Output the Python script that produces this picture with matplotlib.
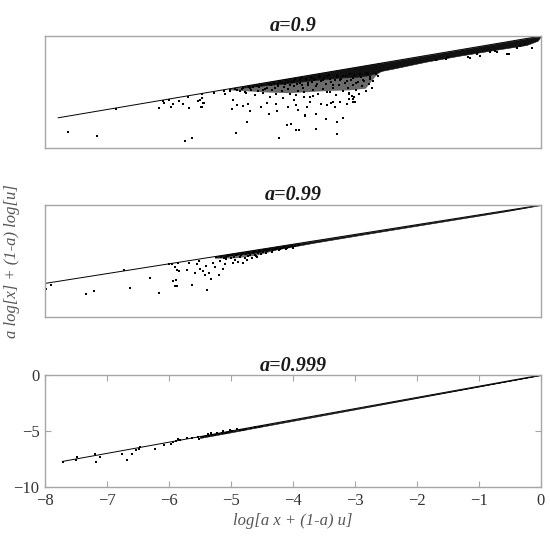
import matplotlib
matplotlib.use("Agg")
import matplotlib.pyplot as plt

# ---- data (x = log[a x + (1-a) u], y = a log[x] + (1-a) log[u]) ----

# a = 0.9
top_line = [-7.30, 0.0]
top_x = [-7.15, -6.71, -6.42, -5.77, -5.71, -5.70, -5.62, -5.59, -5.56, -5.47, -5.42, -5.32,
         -5.38, -5.28, -5.18, -5.16, -5.12, -5.11, -5.14, -5.12, -5.33, -4.95, -4.80, -4.78,
         -4.70, -4.65, -4.61, -4.45, -3.96, -3.84, -3.78, -3.71, -3.66, -3.40, -3.08, -3.09,
         -3.00, -3.25, -3.40, -3.57, -3.99, -4.12, -4.40, -4.67, -4.65, -4.59, -4.50, -4.43,
         -4.24, -4.15, -4.00, -3.82, -3.70, -3.54, -3.49, -3.32, -3.17, -3.12, -3.04, -2.94,
         -2.84, -2.83, -2.90, -5.10, -5.12, -3.57, -3.82, -3.67, -3.24, -3.14, -2.91, -2.86,
         -2.81, -2.84, -3.19, -3.44, -3.59, -3.74,
         -4.62, -4.55, -4.50, -4.46, -4.42, -4.38, -4.33, -4.30, -4.28,
         -4.22, -4.20, -4.17, -4.12, -4.10, -4.06, -4.03, -4.00, -3.97, -3.94, -3.92, -3.90,
         -3.87, -3.85, -3.82, -3.80, -3.77, -3.74, -3.72, -3.70, -3.68, -3.65, -3.63, -3.60,
         -3.58, -3.55, -3.53, -3.50,
         -3.48, -3.46, -3.44, -3.42, -3.40, -3.37, -3.35, -3.33, -3.30, -3.28, -3.25, -3.23,
         -3.20, -3.18, -3.15, -3.12, -3.10,
         -3.08, -3.05, -3.02, -3.00, -2.97, -2.95, -2.92, -2.90, -2.87, -2.85, -2.82, -2.80,
         -2.77, -2.75, -2.72, -2.70, -2.67, -2.65, -2.62, -2.60, -2.58, -2.55,
         -1.58, -1.08, -0.52, -0.14, -0.24, -1.43, -0.92, -0.67, -1.10, -1.41, -0.97, -0.77,
         -0.49, -0.37, -0.70, -0.31,
         -4.70, -4.60, -4.52, -4.48, -4.40, -4.35, -4.26, -4.20, -4.14, -4.08, -4.02, -3.98,
         -3.92, -3.88, -3.83, -3.79, -3.73, -3.69, -3.64, -3.61, -3.56, -3.52, -3.47, -3.43,
         -3.38, -3.34, -3.29, -3.24, -3.19, -3.14, -3.09, -3.04, -2.99, -2.94, -2.89, -2.84,
         -2.79, -2.74, -2.69, -2.64, -2.59, -2.54, -2.50, -2.46]
top_y = [-8.61, -8.94, -6.52, -6.46, -5.81, -5.96, -5.75, -6.34, -6.05, -5.84, -6.11, -6.43,
         -9.38, -9.09, -5.81, -5.69, -5.51, -5.96, -6.34, -5.22, -5.40, -5.05, -4.93, -5.16,
         -4.85, -5.75, -8.64, -7.70, -9.14, -7.90, -7.85, -8.38, -8.41, -8.29, -8.79, -7.70,
         -7.29, -7.37, -6.93, -7.17, -6.73, -6.93, -6.73, -6.52, -5.75, -6.19, -6.28, -6.05,
         -6.34, -5.96, -6.05, -6.34, -6.19, -6.34, -5.90, -6.05, -5.99, -6.34, -5.90, -6.11,
         -5.90, -5.46, -5.60, -5.99, -6.34, -7.08, -6.34, -6.64, -6.19, -5.90, -5.16, -5.31,
         -5.90, -5.60, -5.02, -5.31, -5.46, -5.75,
         -4.75, -4.90, -4.62, -5.10, -4.55, -4.80, -5.30, -4.50, -4.95,
         -4.40, -5.10, -4.70, -4.30, -5.40, -4.85, -4.20, -5.20, -4.50, -4.05, -4.90, -5.50,
         -4.30, -3.95, -4.70, -5.15, -4.10, -4.45, -3.85, -5.30, -4.90, -4.20, -3.75, -4.60,
         -5.00, -3.90, -4.35, -5.45,
         -3.65, -4.10, -4.80, -3.80, -4.50, -5.20, -3.60, -4.00, -4.70, -3.75, -4.30, -5.00,
         -3.50, -4.10, -4.60, -3.90, -5.30,
         -3.45, -4.40, -3.80, -4.90, -4.20, -3.60, -4.60, -5.10, -3.90, -4.35, -3.50, -4.80,
         -4.10, -5.20, -3.70, -4.50, -4.00, -4.90, -3.40, -4.30, -3.70, -4.60,
         -2.18, -1.92, -1.57, -1.03, -0.73, -2.06, -1.77, -1.39, -1.86, -1.89, -1.57, -1.45,
         -1.57, -1.06, -1.36, -0.91,
         -4.95, -4.85, -4.72, -5.00, -4.65, -4.58, -4.52, -4.85, -4.62, -4.40, -4.65, -4.30,
         -4.22, -4.55, -4.12, -4.35, -4.00, -4.25, -3.92, -4.40, -3.85, -4.15, -3.75, -3.95,
         -4.25, -3.68, -3.90, -3.58, -3.80, -4.40, -3.65, -3.95, -3.55, -4.05, -3.40, -3.75,
         -4.20, -3.35, -3.95, -3.30, -3.85, -4.05, -3.40, -3.60]
# cloud outline: speckled zone and solid core, each from the line down to the edge
top_zone_x = [-4.7, -4.4, -4.1, -3.8, -3.5, -3.2, -2.9, -2.65, -2.5, -2.4]
top_zone_lo = [-4.85, -4.95, -5.05, -5.10, -5.00, -4.90, -4.85, -4.70, -3.60, -3.10]
top_band_x = [-4.5, -4.2, -3.9, -3.6, -3.3, -3.0, -2.8, -2.6, -2.4, -2.23, -1.73, -1.22,
              -0.72, -0.22, -0.05, 0.0]
top_band_lo = [-4.60, -4.42, -4.25, -4.05, -3.85, -3.70, -3.65, -3.50, -3.10, -2.90,
               -2.28, -1.74, -1.26, -0.80, -0.42, 0.0]

# a = 0.99
mid_line = [-7.10, 0.0]
mid_x = [-6.98, -6.92, -6.42, -6.31, -5.89, -5.80, -5.52, -5.39, -5.25, -5.20, -5.15, -5.17,
         -5.13, -5.21, -5.17, -5.14, -5.11, -5.12, -4.99, -4.97, -4.93, -4.88, -4.86, -4.82,
         -4.81, -4.77, -4.74, -4.72, -4.73, -4.68, -4.66, -4.63, -4.60, -4.55, -4.53, -4.49,
         -4.46, -4.44, -4.34, -4.32, -4.27, -4.20, -4.15, -4.13, -4.08, -4.04, -4.01,
         -4.45, -4.40, -4.38, -4.30, -4.25, -4.22, -4.18, -4.12, -4.10, -4.05, -4.02, -3.98,
         -3.95, -3.90, -3.88, -3.85, -3.80, -3.75, -3.70, -3.65, -3.60, -3.55, -3.50,
         -4.58, -4.52, -4.48, -4.42, -4.36, -4.33, -4.28, -4.24, -4.20, -4.16, -4.14, -4.07,
         -4.03, -4.00, -3.96, -3.93, -3.91, -3.86, -3.83, -3.78, -3.73, -3.68, -3.63, -3.58,
         -3.52, -3.47, -3.42]
mid_y = [-7.46, -7.17, -7.90, -7.67, -5.84, -7.37, -6.55, -7.82, -5.25, -6.78, -6.70, -7.23,
         -7.23, -5.31, -5.52, -5.81, -5.93, -5.22, -5.81, -5.16, -7.14, -6.05, -5.31, -5.02,
         -5.69, -5.90, -6.28, -7.61, -5.40, -6.05, -6.64, -5.16, -5.52, -6.28, -5.02, -5.69,
         -5.31, -4.81, -5.16, -4.93, -5.10, -5.16, -4.87, -4.58, -4.72, -4.43, -4.63,
         -4.60, -4.50, -4.75, -4.42, -4.60, -4.35, -4.70, -4.25, -4.45, -4.20, -4.55, -4.12,
         -4.35, -4.05, -4.25, -4.00, -4.15, -3.90, -4.05, -3.82, -3.95, -3.75, -3.85,
         -4.66, -4.60, -4.70, -4.52, -4.44, -4.62, -4.37, -4.50, -4.29, -4.40, -4.22, -4.32,
         -4.12, -4.28, -4.06, -4.20, -4.00, -4.12, -3.93, -4.02, -3.84, -3.94, -3.73, -3.83,
         -3.64, -3.70, -3.55]
mid_zone_x = [-4.6, -4.3, -4.0, -3.7, -3.4]
mid_zone_lo = [-4.80, -4.75, -4.50, -4.00, -3.55]
mid_band_x = [-4.6, -4.3, -4.0, -3.6, -3.2, -2.5, -1.5, -0.5, 0.0]
mid_band_lo = [-4.66, -4.45, -4.22, -3.82, -3.36, -2.62, -1.59, -0.56, 0.0]

# a = 0.999
bot_line = [-7.72, 0.0]
bot_x = [-7.71, -7.50, -7.48, -7.19, -7.18, -7.12, -6.75, -6.67, -6.60, -6.53, -6.48, -6.47,
         -6.23, -6.08, -5.97, -5.93, -5.88, -5.85, -5.82, -5.71, -5.63, -5.53, -5.52, -5.37,
         -5.33, -5.23, -5.13, -5.02, -4.91,
         -5.40, -5.35, -5.30, -5.25, -5.15, -5.08, -4.98, -4.85, -4.75, -4.62, -4.50, -4.40,
         -5.45, -5.20, -5.05, -4.80, -4.68, -4.55]
bot_y = [-7.81, -7.58, -7.32, -7.02, -7.76, -7.29, -7.08, -7.58, -7.02, -6.70, -6.58, -6.46,
         -6.58, -6.25, -6.19, -5.99, -5.90, -5.69, -5.81, -5.60, -5.60, -5.51, -5.69, -5.31,
         -5.22, -5.16, -5.04, -4.93, -4.81,
         -5.48, -5.45, -5.38, -5.34, -5.22, -5.15, -5.03, -4.92, -4.80, -4.67, -4.55, -4.44,
         -5.55, -5.30, -5.13, -4.88, -4.75, -4.62]
bot_zone_x = [-5.5, -5.0]
bot_zone_lo = [-5.62, -5.12]
bot_band_x = [-5.5, -5.0, -4.5, -4.0, -3.0, -2.0, -1.0, 0.0]
bot_band_lo = [-5.62, -5.12, -4.60, -4.09, -3.07, -2.05, -1.03, 0.0]

x_ticks = [-8, -7, -6, -5, -4, -3, -2, -1, 0]
y_ticks = [-10, -5, 0]

panels = [
    ("a=0.9", top_line, top_x, top_y, top_zone_x, top_zone_lo, top_band_x, top_band_lo,
     (-7.5, 0), 0.7269),
    ("a=0.99", mid_line, mid_x, mid_y, mid_zone_x, mid_zone_lo, mid_band_x, mid_band_lo,
     (-7, 0), 0.4151),
    ("a=0.999", bot_line, bot_x, bot_y, bot_zone_x, bot_zone_lo, bot_band_x, bot_band_lo,
     (-8, 0), 0.1015),
]

plt.rcParams['font.family'] = ['Liberation Serif', 'DejaVu Serif']
edge = '#a6a6a6'

fig = plt.figure(figsize=(5.5, 5.42), dpi=100)
axes = []
for title, line, px, py, zx, zlo, bx, blo, xl, bottom in panels:
    ax = fig.add_axes([0.0818, bottom, 0.9018, 0.2066])
    ax.plot(line, line, color='k', lw=0.7)
    # speckled zone drawn as mid grey, then the solid core
    ax.fill_between(zx, zlo, zx, facecolor='#6a6a6a', lw=0)
    ax.fill_between(bx, blo, bx, facecolor='#111111', edgecolor='#111111', lw=0.4)
    ax.plot(px, py, 's', color='k', ms=1.9, mew=0)
    ax.set_xlim(xl)
    ax.set_ylim(-10, 0)
    ax.set_title(title, fontsize=14.5, fontweight='bold', fontstyle='italic', pad=3, color='#1a1a1a')
    for s in ax.spines.values():
        s.set_color(edge)
        s.set_linewidth(1.0)
    ax.set_xticks([])
    ax.set_yticks([])
    axes.append(ax)

ax3 = axes[2]
ax3.set_xticks(x_ticks)
ax3.set_yticks(y_ticks)
ax3.tick_params(direction='in', length=4, color=edge, labelsize=12, labelcolor='#333333',
                top=True, right=True, pad=4)
ax3.set_xlabel('log[a x + (1-a) u]', fontsize=12, fontstyle='italic', color='#555555', labelpad=3)

fig.text(0.022, 0.518, 'a log[x] + (1-a) log[u]', rotation=90, ha='center', va='center',
         fontsize=12, fontstyle='italic', color='#555555')

fig.savefig('out.png', dpi=100)
